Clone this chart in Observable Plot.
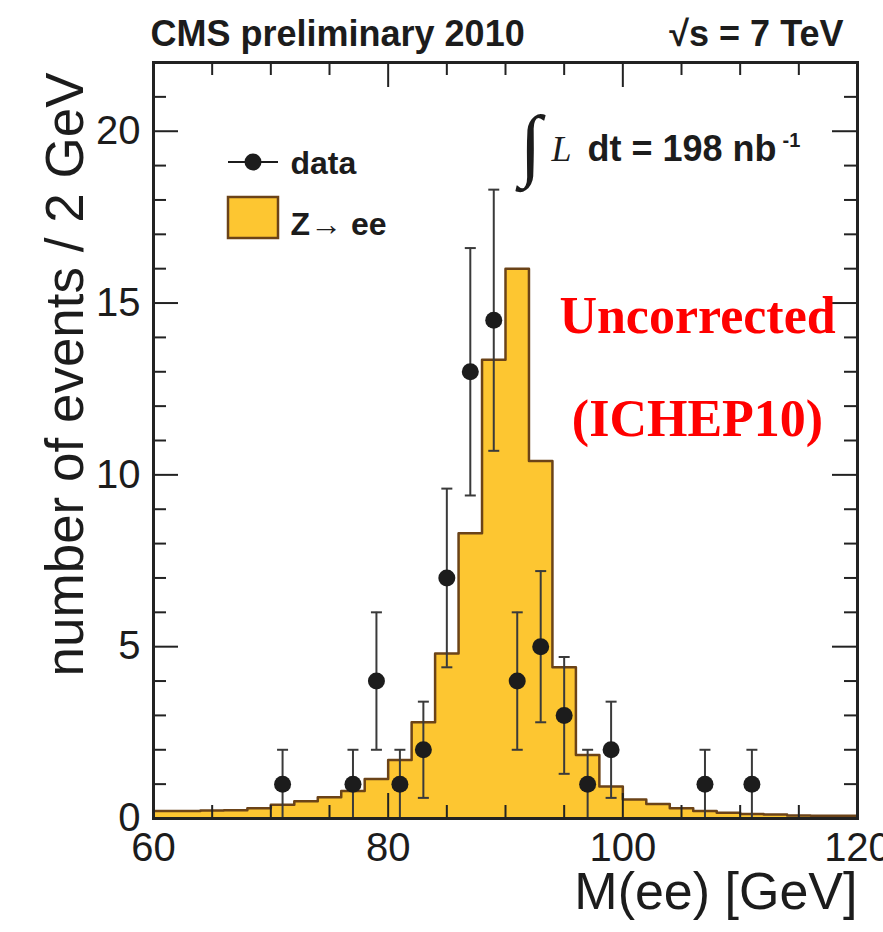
<!DOCTYPE html>
<html><head><meta charset="utf-8">
<script src="https://cdn.jsdelivr.net/npm/d3@7"></script>
<script src="https://cdn.jsdelivr.net/npm/@observablehq/plot@0.6"></script>
<style>
html,body{margin:0;padding:0;background:#fff;overflow:hidden;}
#chart svg{display:block;}
</style></head><body><div id="chart"></div>
<script>
// ---- data ----
const binLow = [60,62,64,66,68,70,72,74,76,78,80,82,84,86,88,90,92,94,96,98,100,102,104,106,108,110,112,114,116,118];
const binWidth = 2;
const mcEvents = [0.22,0.22,0.23,0.24,0.3,0.4,0.5,0.62,0.8,1.15,1.7,2.8,4.8,8.3,13.35,16.0,10.4,4.4,1.85,0.93,0.55,0.42,0.3,0.22,0.17,0.13,0.12,0.09,0.08,0.08];
const dataMass = [71,77,79,81,83,85,87,89,91,93,95,97,99,107,111];
const dataEvents = [1,1,4,1,2,7,13,14.5,4,5,3,1,2,1,1];
const dataErrDown = [1,1,2,1,1.4,2.6,3.6,3.8,2,2.2,1.7,1,1.4,1,1];
const dataErrUp = [1,1,2,1,1.4,2.6,3.6,3.8,2,2.2,1.7,1,1.4,1,1];
const yMajorTicks = [0,5,10,15,20];
const yMinorTicks = [1,2,3,4,6,7,8,9,11,12,13,14,16,17,18,19,21];
const xMajorTicks = [60,80,100,120];
const xMinorTicks = [65,70,75,85,90,95,105,110,115];

const FILL = "#fdc631";
const OUTLINE = "#6b4318";
const INK = "#1c1c1c";

const W = 883, H = 932, ML = 153, MR = 26, MT = 62, MB = 114;
const FW = W - ML - MR, FH = H - MT - MB;
const MAJOR = 25, MINOR = 13;

// tables built from the arrays
const steps = binLow.map((x, i) => ({x, y: mcEvents[i]}));
steps.push({x: binLow[binLow.length - 1] + binWidth, y: mcEvents[mcEvents.length - 1]});
const points = dataMass.map((m, i) => ({m, n: dataEvents[i], lo: dataEvents[i] - dataErrDown[i], hi: dataEvents[i] + dataErrUp[i]}));

const capSymbol = {draw(ctx, size) { const w = Math.sqrt(size / Math.PI); ctx.moveTo(-w, 0); ctx.lineTo(w, 0); }};

function legendSwatches(index, scales, values, dims) {
  const g = d3.create("svg:g");
  const fx = dims.marginLeft, fy = dims.marginTop;
  g.append("line").attr("x1", fx + 75).attr("x2", fx + 125).attr("y1", fy + 100).attr("y2", fy + 100)
    .attr("stroke", INK).attr("stroke-width", 2);
  g.append("circle").attr("cx", fx + 100).attr("cy", fy + 100).attr("r", 8.5).attr("fill", INK);
  g.append("rect").attr("x", fx + 75).attr("y", fy + 135).attr("width", 50).attr("height", 41)
    .attr("fill", FILL).attr("stroke", OUTLINE).attr("stroke-width", 2.5);
  return g.node();
}

const sans = "'Liberation Sans', Arial, Helvetica, sans-serif";
const serif = "'Liberation Serif', 'Times New Roman', serif";
const tickStyle = {stroke: "#222", strokeWidth: 2};

const chart = Plot.plot({
  width: W, height: H,
  marginTop: MT, marginRight: MR, marginBottom: MB, marginLeft: ML,
  x: {domain: [60, 120]},
  y: {domain: [0, 22]},
  style: {fontFamily: sans, color: INK, background: "white"},
  marks: [
    Plot.areaY(steps, {x: "x", y: "y", curve: "step-after", fill: FILL}),
    Plot.lineY(steps, {x: "x", y: "y", curve: "step-after", stroke: OUTLINE, strokeWidth: 2.5}),
    // ticks inside the frame
    Plot.tickY(yMajorTicks, {y: d => d, insetRight: FW - MAJOR, ...tickStyle}),
    Plot.tickY(yMinorTicks, {y: d => d, insetRight: FW - MINOR, ...tickStyle}),
    Plot.tickY(yMajorTicks, {y: d => d, insetLeft: FW - MAJOR, ...tickStyle}),
    Plot.tickY(yMinorTicks, {y: d => d, insetLeft: FW - MINOR, ...tickStyle}),
    Plot.tickX(xMajorTicks, {x: d => d, insetTop: FH - MAJOR, ...tickStyle}),
    Plot.tickX(xMinorTicks, {x: d => d, insetTop: FH - MINOR, ...tickStyle}),
    Plot.tickX(xMajorTicks, {x: d => d, insetBottom: FH - MAJOR, ...tickStyle}),
    Plot.tickX(xMinorTicks, {x: d => d, insetBottom: FH - MINOR, ...tickStyle}),
    // tick labels
    Plot.axisY(yMajorTicks, {anchor: "left", tickSize: 0, tickPadding: 13, fontSize: 40, label: null}),
    Plot.axisX(xMajorTicks, {anchor: "bottom", tickSize: 0, tickPadding: 14, fontSize: 40, label: null}),
    // data with error bars
    Plot.ruleX(points, {x: "m", y1: "lo", y2: "hi", stroke: "#3a3a3a", strokeWidth: 2}),
    Plot.dot(points, {x: "m", y: "hi", symbol: capSymbol, r: 5.5, stroke: "#3a3a3a", strokeWidth: 2, fill: "none"}),
    Plot.dot(points, {x: "m", y: "lo", symbol: capSymbol, r: 5.5, stroke: "#3a3a3a", strokeWidth: 2, fill: "none"}),
    Plot.dot(points, {x: "m", y: "n", r: 8.5, fill: INK, stroke: null}),
    Plot.frame({stroke: "#222", strokeWidth: 3}),
    // legend
    legendSwatches,
    Plot.text(["data"], {frameAnchor: "top-left", dx: 137, dy: 111, textAnchor: "start", lineAnchor: "bottom", fontSize: 32, fontWeight: "bold"}),
    Plot.text(["Z\u2192 ee"], {frameAnchor: "top-left", dx: 137, dy: 172, textAnchor: "start", lineAnchor: "bottom", fontSize: 32, fontWeight: "bold"}),
    // luminosity
    Plot.text(["\u222B"], {frameAnchor: "top-left", dx: 377, dy: 108, textAnchor: "middle", lineAnchor: "bottom", fontSize: 80, fontFamily: serif, fontStyle: "italic"}),
    Plot.text(["L"], {frameAnchor: "top-left", dx: 398, dy: 98, textAnchor: "start", lineAnchor: "bottom", fontSize: 36, fontFamily: serif, fontStyle: "italic"}),
    Plot.text(["dt = 198 nb"], {frameAnchor: "top-left", dx: 434, dy: 98, textAnchor: "start", lineAnchor: "bottom", fontSize: 36, fontWeight: "bold"}),
    Plot.text(["-1"], {frameAnchor: "top-left", dx: 629, dy: 84, textAnchor: "start", lineAnchor: "bottom", fontSize: 20, fontWeight: "bold"}),
    // red annotation
    Plot.text(["Uncorrected"], {frameAnchor: "top-left", dx: 544, dy: 270, textAnchor: "middle", lineAnchor: "bottom", fontSize: 52, fontFamily: serif, fontWeight: "bold", fill: "#ff0000"}),
    Plot.text(["(ICHEP10)"], {frameAnchor: "top-left", dx: 544, dy: 373, textAnchor: "middle", lineAnchor: "bottom", fontSize: 52, fontFamily: serif, fontWeight: "bold", fill: "#ff0000"}),
    // header
    Plot.text(["CMS preliminary 2010"], {frameAnchor: "top-left", dx: -3, dy: -17, textAnchor: "start", lineAnchor: "bottom", fontSize: 36, fontWeight: "bold"}),
    Plot.text(["\u221As = 7 TeV"], {frameAnchor: "top-right", dx: -14, dy: -17, textAnchor: "end", lineAnchor: "bottom", fontSize: 36, fontWeight: "bold"}),
    // axis titles
    Plot.text(["M(ee) [GeV]"], {frameAnchor: "bottom-right", dx: 0, dy: 90, textAnchor: "end", lineAnchor: "bottom", fontSize: 52}),
    Plot.text(["number of events / 2 GeV"], {frameAnchor: "top-left", dx: -71, dy: 10, rotate: -90, textAnchor: "end", lineAnchor: "bottom", fontSize: 53})
  ]
});
document.getElementById("chart").append(chart);
</script>
</body></html>
